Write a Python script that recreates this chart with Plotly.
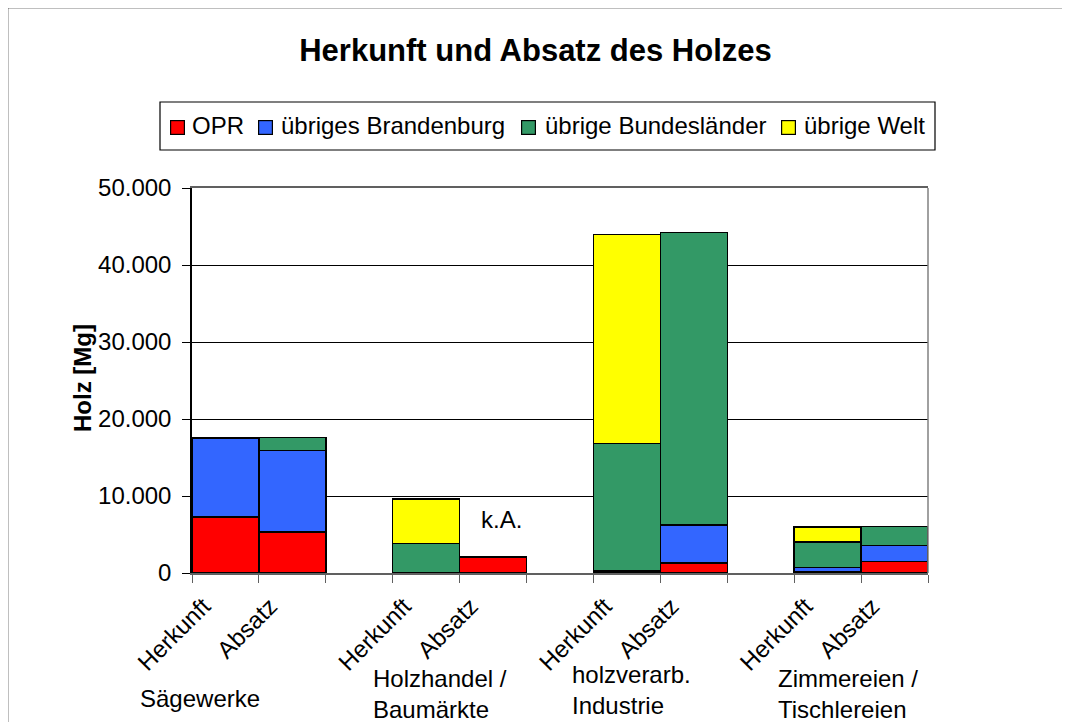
import plotly.graph_objects as go

# Herkunft/Absatz je Branche, Reihenfolge: Sägewerke, Holzhandel, holzverarb. Industrie, Zimmereien
bar_labels = ['Herkunft', 'Absatz', 'Herkunft', 'Absatz', 'Herkunft', 'Absatz', 'Herkunft', 'Absatz']
bar_pos = [0.5, 1.5, 3.5, 4.5, 6.5, 7.5, 9.5, 10.5]
groups = ['Sägewerke', 'Holzhandel /<br>Baumärkte', 'holzverarb.<br>Industrie', 'Zimmereien /<br>Tischlereien']

opr = [7300, 5300, 0, 2050, 150, 1300, 200, 1500]
brandenburg = [10250, 10600, 0, 0, 100, 4950, 500, 2050]
bundeslaender = [0, 1700, 3800, 0, 16550, 37950, 3300, 2500]
welt = [0, 0, 5800, 0, 27150, 0, 1950, 0]

series = [('OPR', opr, '#FF0000'),
          ('übriges Brandenburg', brandenburg, '#3366FF'),
          ('übrige Bundesländer', bundeslaender, '#339966'),
          ('übrige Welt', welt, '#FFFF00')]

FONT = 'Liberation Sans, Arial, sans-serif'

# plot area in page pixels: x 192..928, y 188..573
def px(x):
    return (x - 192) / 736.0

def py(y):
    return (573 - y) / 385.0

fig = go.Figure()
for name, vals, col in series:
    fig.add_trace(go.Bar(x=bar_pos, y=vals, width=1, name=name, showlegend=False,
                         marker=dict(color=col, line=dict(color='black', width=1.5))))

fig.update_layout(
    barmode='stack',
    width=1070, height=722,
    margin=dict(l=184, r=150, t=180, b=157),
    paper_bgcolor='white', plot_bgcolor='white',
    separators=',.',
    font=dict(family=FONT, size=24, color='black'),
    title=dict(text='<b>Herkunft und Absatz des Holzes</b>', x=0.493, y=0.942,
               xanchor='center', yanchor='middle', font=dict(size=31)),
)

fig.update_xaxes(range=[0, 11], tickmode='array', tickvals=[p - 0.33 for p in bar_pos],
                 ticktext=bar_labels, tickangle=-45, ticks='', showgrid=False,
                 ticklabelstandoff=8, tickfont=dict(size=24),
                 showline=True, linecolor='#606060', linewidth=1.5, mirror=True,
                 zeroline=False,
                 minor=dict(tickmode='array', tickvals=list(range(12)), ticks='outside',
                            ticklen=8, tickcolor='#606060', showgrid=False))
fig.update_yaxes(range=[0, 50000], dtick=10000, tickformat=',d',
                 showgrid=True, gridcolor='black', gridwidth=1,
                 showline=True, linecolor='black', linewidth=1.5,
                 ticks='outside', ticklen=8, tickcolor='black', zeroline=False,
                 ticklabelstandoff=6, tickfont=dict(size=24))

# Rahmen rechts am Diagrammbereich und äußerer Rahmen
fig.add_shape(type='line', xref='paper', yref='paper', x0=1, x1=1, y0=0, y1=1,
              line=dict(color='#808080', width=1.5))
fig.add_shape(type='rect', xref='paper', yref='paper', x0=px(7.5), x1=2, y0=-1, y1=py(7.5),
              line=dict(color='black', width=1.5), layer='below')

# Legende
fig.add_shape(type='rect', xref='paper', yref='paper', x0=px(160), x1=px(935),
              y0=py(150), y1=py(102), line=dict(color='black', width=1.2))
legend_swatch_x = [177, 265, 528, 788]
legend_text_x = [190, 279, 543, 802]
for (name, vals, col), sx, tx in zip(series, legend_swatch_x, legend_text_x):
    fig.add_annotation(text=' ', xref='paper', yref='paper', x=px(sx), y=py(127),
                       width=13, height=13, bgcolor=col, bordercolor='black',
                       borderwidth=1.2, borderpad=0, showarrow=False,
                       xanchor='center', yanchor='middle', font=dict(size=6))
    fig.add_annotation(text=name, xref='paper', yref='paper', x=px(tx), y=py(125),
                       xanchor='left', yanchor='middle', showarrow=False, font=dict(size=24))

fig.add_annotation(text='<b>Holz [Mg]</b>', xref='paper', yref='paper', x=px(82), y=py(378),
                   xanchor='center', yanchor='middle',
                   textangle=-90, showarrow=False, font=dict(size=24))
fig.add_annotation(text='k.A.', x=4.63, y=7000, showarrow=False, font=dict(size=24))

group_x = [138, 371, 570, 776]
group_y = [698, 694, 690, 694]
for g, gx, gy in zip(groups, group_x, group_y):
    fig.add_annotation(text=g, x=px(gx), y=py(gy), xref='paper', yref='paper', xanchor='left',
                       yanchor='middle', align='left', showarrow=False, font=dict(size=24))

fig.write_html('out.html')
